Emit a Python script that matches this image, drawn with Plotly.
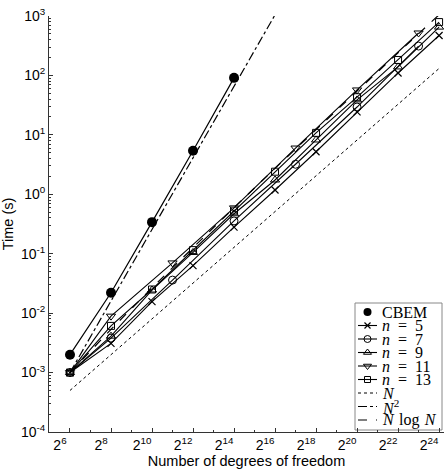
import plotly.graph_objects as go

# ---------------- data ----------------
N_cbem = [64, 256, 1024, 4096, 16384]
t_cbem = [2.0e-3, 0.022, 0.34, 5.4, 91]

N_even = [64, 256, 1024, 4096, 16384, 65536, 262144, 1048576, 4194304, 16777216]
N_odd = [64, 256, 2048, 16384, 131072, 1048576, 8388608]

t_n5 = [1e-3, 3.1e-3, 0.0156, 0.063, 0.28, 1.18, 5.2, 24.3, 110, 470]
t_n7 = [1e-3, 3.8e-3, 0.036, 0.356, 3.2, 29.4, 312]
t_n9 = [1e-3, 4.1e-3, 0.0245, 0.105, 0.47, 1.74, 8.2, 38.7, 139, 650]
t_n11 = [1e-3, 8.9e-3, 0.07, 0.59, 6.0, 57, 518]
t_n13 = [1e-3, 6.1e-3, 0.025, 0.115, 0.53, 2.4, 10.8, 43, 182, 790]

# reference slopes
N_refN = [64, 16777216]
t_refN = [5e-4, 131]
N_refN2 = [64, 65536]
t_refN2 = [1e-3, 1049]
N_refNlogN = [64, 256, 1024, 4096, 16384, 65536, 262144, 1048576, 4194304, 16777216]
t_refNlogN = [1e-3, 5.33e-3, 0.0267, 0.128, 0.597, 2.73, 12.3, 54.6, 240, 1049]

y_tickvals = [1e-4, 1e-3, 1e-2, 1e-1, 1, 10, 100, 1000]
y_ticktext = ["10<sup>-4</sup>", "10<sup>-3</sup>", "10<sup>-2</sup>", "10<sup>-1</sup>",
              "10<sup>0</sup>", "10<sup>1</sup>", "10<sup>2</sup>", "10<sup>3</sup>"]
x_tickvals = [64, 256, 1024, 4096, 16384, 65536, 262144, 1048576, 4194304, 16777216]
x_ticktext = ["2<sup>6</sup>", "2<sup>8</sup>", "2<sup>10</sup>", "2<sup>12</sup>", "2<sup>14</sup>",
              "2<sup>16</sup>", "2<sup>18</sup>", "2<sup>20</sup>", "2<sup>22</sup>", "2<sup>24</sup>"]
x_minor = [2 ** k for k in range(5, 25, 2)]
y_minor = [m * 10 ** e for e in range(-4, 3) for m in range(2, 10)]

legend_labels = ["CBEM", "<i>n</i>\u2002=\u20025", "<i>n</i>\u2002=\u20027", "<i>n</i>\u2002=\u20029",
                 "<i>n</i>\u2002=\u200211", "<i>n</i>\u2002=\u200213", "<i>N</i>",
                 "<i>N</i><sup>2</sup>", "<i>N</i>\u2004log\u2004<i>N</i>"]

# ---------------- figure ----------------
K = "black"
fig = go.Figure()

series = [
    (N_refN, t_refN, dict(color=K, width=1, dash="dot"), None),
    (N_refN2, t_refN2, dict(color=K, width=1.2, dash="dashdot"), None),
    (N_refNlogN, t_refNlogN, dict(color=K, width=1.2, dash="dash"), None),
    (N_even, t_n5, dict(color=K, width=1.1), dict(symbol="x-thin", size=7, line=dict(color=K, width=1.2))),
    (N_odd, t_n7, dict(color=K, width=1.1), dict(symbol="circle-open", size=8, color=K, line=dict(width=1))),
    (N_even, t_n9, dict(color=K, width=1.1), dict(symbol="triangle-up-open", size=8, color=K, line=dict(width=1))),
    (N_odd, t_n11, dict(color=K, width=1.1), dict(symbol="triangle-down-open", size=8, color=K, line=dict(width=1))),
    (N_even, t_n13, dict(color=K, width=1.1), dict(symbol="square-open", size=7, color=K, line=dict(width=1))),
    (N_cbem, t_cbem, dict(color=K, width=1.2), dict(symbol="circle", size=10, color=K)),
]
for xs, ys, ln, mk in series:
    fig.add_trace(go.Scatter(x=xs, y=ys, mode="lines" if mk is None else "lines+markers",
                             line=ln, marker=mk, showlegend=False, cliponaxis=False,
                             xaxis="x", yaxis="y"))

# ---------------- custom legend (pixel-space overlay axes) ----------------
rows = [312, 325.5, 339, 352.5, 366, 379.5, 393, 406.5, 420]
leg_styles = [
    (None, dict(symbol="circle", size=8, color=K)),
    (dict(color=K, width=1.1), dict(symbol="x-thin", size=6, line=dict(color=K, width=1.2))),
    (dict(color=K, width=1.1), dict(symbol="circle-open", size=7, color=K, line=dict(width=1))),
    (dict(color=K, width=1.1), dict(symbol="triangle-up-open", size=7, color=K, line=dict(width=1))),
    (dict(color=K, width=1.1), dict(symbol="triangle-down-open", size=7, color=K, line=dict(width=1))),
    (dict(color=K, width=1.1), dict(symbol="square-open", size=6, color=K, line=dict(width=1))),
    (dict(color=K, width=1, dash="dot"), None),
    (dict(color=K, width=1.2, dash="dashdot"), None),
    (dict(color=K, width=1.2, dash="dash"), None),
]
for yr, (ln, mk), lab in zip(rows, leg_styles, legend_labels):
    if ln is not None:
        fig.add_trace(go.Scatter(x=[358, 377], y=[yr, yr], mode="lines", line=ln,
                                 showlegend=False, hoverinfo="skip", xaxis="x2", yaxis="y2"))
    if mk is not None:
        fig.add_trace(go.Scatter(x=[367.5], y=[yr], mode="markers", marker=mk,
                                 showlegend=False, hoverinfo="skip", xaxis="x2", yaxis="y2",
                                 cliponaxis=False))
    fig.add_annotation(x=380, y=yr, xref="x2", yref="y2", text=lab, showarrow=False,
                       xanchor="left", yanchor="middle",
                       font=dict(family="Liberation Serif", size=16, color=K))

fig.add_shape(type="rect", x0=355, x1=442, y0=303, y1=430, xref="x2", yref="y2",
              line=dict(color="#888888", width=1), fillcolor="white", layer="below")

axis_font = dict(family="Liberation Sans", size=14, color=K)
fig.update_layout(
    width=444, height=474,
    margin=dict(l=49, r=0, t=16, b=42),
    paper_bgcolor="white", plot_bgcolor="rgba(0,0,0,0)",
    showlegend=False,
    xaxis=dict(type="log", range=[1.498, 7.297], showgrid=False, zeroline=False,
               showline=True, linecolor="#333333", linewidth=1,
               ticks="inside", ticklen=4, tickcolor="#333333",
               tickmode="array", tickvals=x_tickvals, ticktext=x_ticktext,
               ticklabelshift=-10, tickfont=axis_font,
               minor=dict(ticks="inside", ticklen=2, tickcolor="#333333",
                          tickmode="array", tickvals=x_minor),
               title=dict(text="Number of degrees of freedom", font=dict(family="Liberation Sans", size=14.5, color=K),
                          standoff=2),
               automargin=False),
    yaxis=dict(type="log", range=[-4, 3], showgrid=False, zeroline=False,
               showline=True, linecolor="#333333", linewidth=1,
               ticks="inside", ticklen=4, tickcolor="#333333",
               tickmode="array", tickvals=y_tickvals, ticktext=y_ticktext,
               tickfont=axis_font,
               minor=dict(ticks="inside", ticklen=2, tickcolor="#333333",
                          tickmode="array", tickvals=y_minor),
               title=dict(text="Time (s)", font=dict(family="Liberation Sans", size=14.5, color=K),
                          standoff=4),
               automargin=False),
    xaxis2=dict(overlaying="x", range=[49, 444], visible=False, anchor="y2", fixedrange=True),
    yaxis2=dict(overlaying="y", range=[432, 16], visible=False, anchor="x2", fixedrange=True),
)

fig.write_html("out.html")
